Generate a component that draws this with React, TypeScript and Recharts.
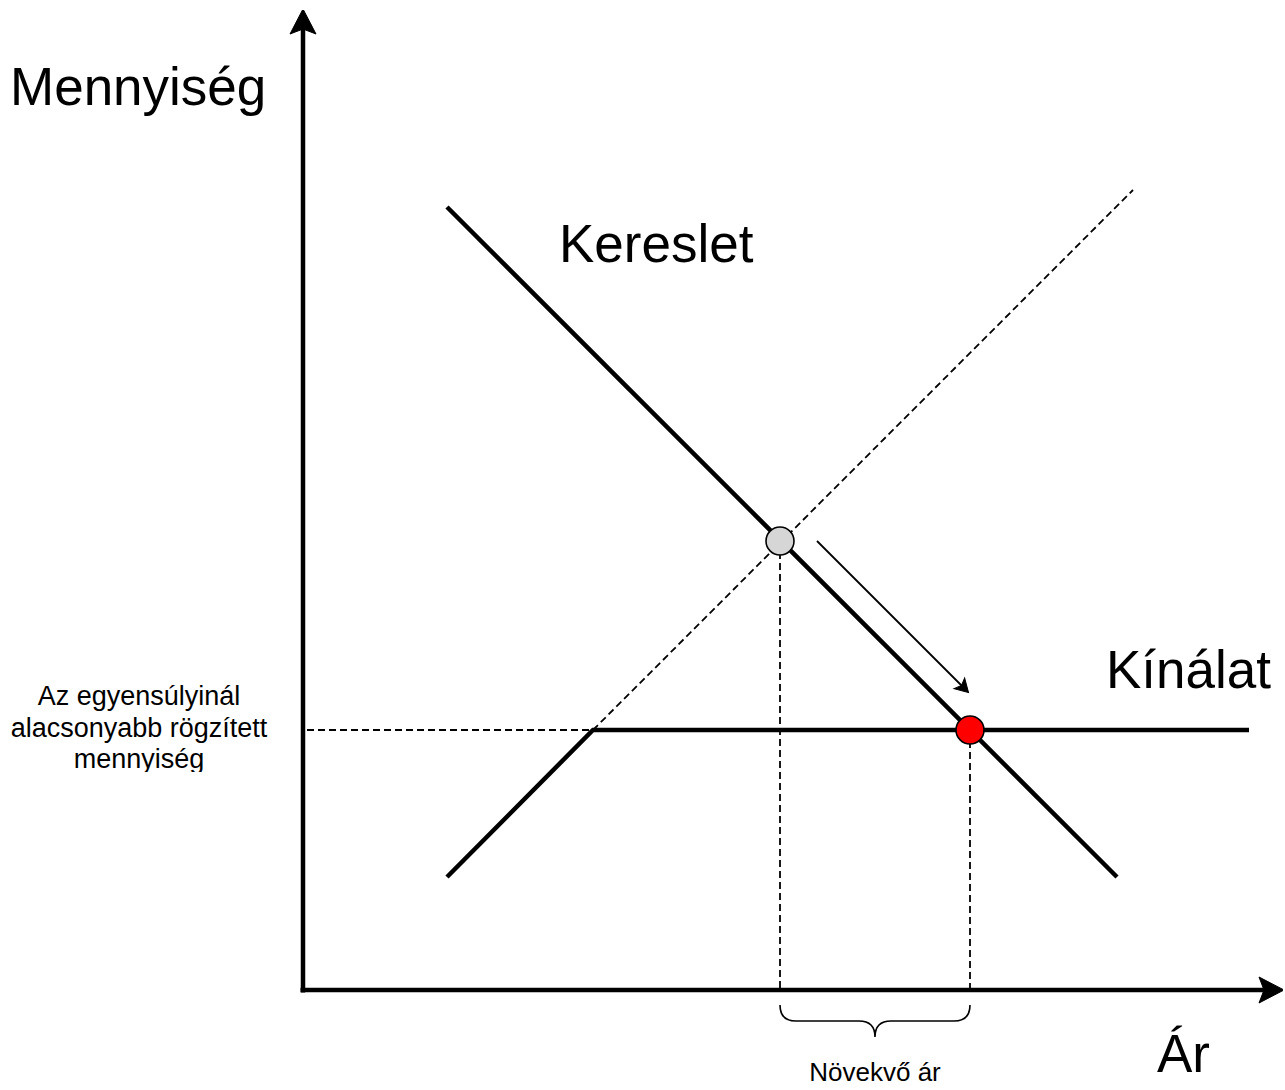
import React from 'react';
import { ComposedChart, Line, XAxis, YAxis, Scatter, ReferenceArea } from 'recharts';

// ---- data (units: price on x, quantity on y) ----
const demandCurve = [{ x: 14.4, y: 78.3 }, { x: 81.4, y: 11.3 }];
const supplyFixed = [{ x: 14.4, y: 11.3 }, { x: 29.0, y: 26.0 }, { x: 94.6, y: 26.0 }];
const supplyUnconstrained = [{ x: 29.0, y: 26.0 }, { x: 83.0, y: 80.0 }];
const equilibriumPoint = [{ x: 47.7, y: 44.9 }];
const fixedQuantityPoint = [{ x: 66.7, y: 26.0 }];
const priceMoveArrow = [{ x: 51.4, y: 44.9 }, { x: 66.2, y: 30.1 }];
const fixedQuantityGuide = [{ x: 0.4, y: 26.0 }, { x: 29.0, y: 26.0 }];
const equilibriumPriceGuide = [{ x: 47.7, y: 44.9 }, { x: 47.7, y: 0 }];
const fixedPriceGuide = [{ x: 66.7, y: 26.0 }, { x: 66.7, y: 0 }];
const priceAxisLine = [{ x: -0.25, y: 0 }, { x: 96.6, y: 0 }];
const quantityAxisLine = [{ x: 0, y: -0.25 }, { x: 0, y: 96.6 }];
const priceRangeBrace = { x1: 47.7, x2: 66.7, y1: -1.5, y2: -4.7 };

const xDomain = [-30.3, 98];
const yDomain = [-10, 98];

const W = 1285;
const H = 1090;

const FONT = '"Liberation Sans", Arial, sans-serif';

function arrowDot(lastIndex: number, angle: number, len: number, wid: number, notch: number, ahead: number) {
  return (p: any) => {
    if (p.index !== lastIndex) return <g key={`d${p.index}`} />;
    const path = `M${ahead},0 L${ahead - len},${-wid / 2} L${ahead - notch},0 L${ahead - len},${wid / 2} Z`;
    return (
      <path
        key={`d${p.index}`}
        d={path}
        fill="#000"
        stroke="#000"
        strokeWidth={1}
        transform={`translate(${p.cx},${p.cy}) rotate(${angle})`}
      />
    );
  };
}

const Brace = (props: any) => {
  const { x, y, width, height } = props;
  const x0 = x;
  const x1 = x + width;
  const xm = x + width / 2;
  const yT = y;
  const yB = y + height;
  const yM = yT + height / 2;
  const r = 16;
  const d = `M${x0},${yT} Q${x0},${yM} ${x0 + r},${yM} L${xm - r},${yM} Q${xm},${yM} ${xm},${yB} Q${xm},${yM} ${xm + r},${yM} L${x1 - r},${yM} Q${x1},${yM} ${x1},${yT}`;
  return <path d={d} fill="none" stroke="#000" strokeWidth={1.6} />;
};

const dotShape = (fill: string) => (p: any) => (
  <circle cx={p.cx} cy={p.cy} r={14} fill={fill} stroke="#000" strokeWidth={1.6} />
);

const DASH = '7 4';

export default function App() {
  return (
    <div style={{ position: 'absolute', left: 0, top: 0, width: W, height: H, background: '#fff' }}>
      <ComposedChart width={W} height={H} margin={{ top: 10, right: 2, bottom: 0, left: 0 }}>
        <XAxis type="number" dataKey="x" domain={xDomain} allowDataOverflow hide />
        <YAxis type="number" dataKey="y" domain={yDomain} allowDataOverflow hide />

        {/* guides */}
        <Line data={fixedQuantityGuide} dataKey="y" stroke="#000" strokeWidth={1.8} strokeDasharray={DASH} dot={false} activeDot={false} isAnimationActive={false} />
        <Line data={equilibriumPriceGuide} dataKey="y" stroke="#000" strokeWidth={1.8} strokeDasharray={DASH} dot={false} activeDot={false} isAnimationActive={false} />
        <Line data={fixedPriceGuide} dataKey="y" stroke="#000" strokeWidth={1.8} strokeDasharray={DASH} dot={false} activeDot={false} isAnimationActive={false} />
        <Line data={supplyUnconstrained} dataKey="y" stroke="#000" strokeWidth={1.8} strokeDasharray={DASH} dot={false} activeDot={false} isAnimationActive={false} />

        {/* axes */}
        <Line data={priceAxisLine} dataKey="y" stroke="#000" strokeWidth={4.5} dot={arrowDot(1, 0, 25, 26, 20, 15)} activeDot={false} isAnimationActive={false} />
        <Line data={quantityAxisLine} dataKey="y" stroke="#000" strokeWidth={4.5} dot={arrowDot(1, -90, 25, 26, 20, 15)} activeDot={false} isAnimationActive={false} />

        {/* curves */}
        <Line data={demandCurve} dataKey="y" stroke="#000" strokeWidth={4.5} dot={false} activeDot={false} isAnimationActive={false} />
        <Line data={supplyFixed} dataKey="y" stroke="#000" strokeWidth={4.5} strokeLinejoin="miter" dot={false} activeDot={false} isAnimationActive={false} />

        {/* movement arrow */}
        <Line data={priceMoveArrow} dataKey="y" stroke="#000" strokeWidth={1.8} dot={arrowDot(1, 45, 13, 15, 10, 5)} activeDot={false} isAnimationActive={false} />

        <ReferenceArea
          x1={priceRangeBrace.x1}
          x2={priceRangeBrace.x2}
          y1={priceRangeBrace.y1}
          y2={priceRangeBrace.y2}
          ifOverflow="visible"
          shape={<Brace />}
        />

        <Scatter data={equilibriumPoint} dataKey="y" shape={dotShape('#d6d6d6')} isAnimationActive={false} />
        <Scatter data={fixedQuantityPoint} dataKey="y" shape={dotShape('#ff0000')} isAnimationActive={false} />
      </ComposedChart>

      <svg width={W} height={H} style={{ position: 'absolute', left: 0, top: 0, pointerEvents: 'none' }}>
        <defs>
          <clipPath id="leftLabelClip">
            <rect x={0} y={660} width={300} height={112} />
          </clipPath>
        </defs>
        <g fontFamily={FONT} fill="#000">
          <text x={10} y={105} fontSize={53}>Mennyiség</text>
          <text x={559} y={262} fontSize={53}>Kereslet</text>
          <text x={1106} y={688} fontSize={53}>Kínálat</text>
          <text x={1157} y={1072} fontSize={53}>Ár</text>
          <g clipPath="url(#leftLabelClip)" fontSize={27} textAnchor="middle">
            <text x={139} y={705}>Az egyensúlyinál</text>
            <text x={139} y={737}>alacsonyabb rögzített</text>
            <text x={139} y={768}>mennyiség</text>
          </g>
          <text x={875} y={1081} fontSize={26} textAnchor="middle">Növekvő ár</text>
        </g>
      </svg>
    </div>
  );
}
